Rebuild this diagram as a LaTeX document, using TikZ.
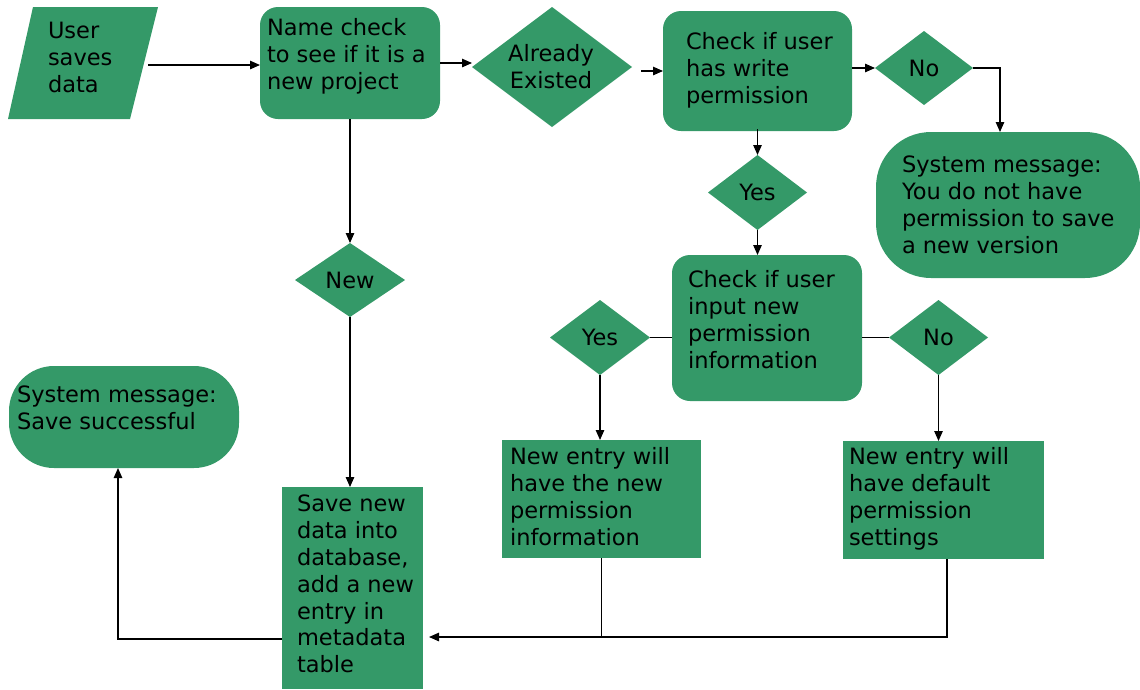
\documentclass[tikz,border=0pt]{standalone}
\usepackage{fontspec}
\setmainfont{DejaVu Sans}
\usetikzlibrary{shapes.geometric,arrows.meta}
\definecolor{flowgreen}{RGB}{52,153,104}
\begin{document}
\begin{tikzpicture}[x=1pt,y=-1pt,
  every node/.style={font=\fontsize{22.5}{26.8}\selectfont, inner sep=0pt, outer sep=0pt},
  procbox/.style={fill=flowgreen, rounded corners=18pt},
  plainbox/.style={fill=flowgreen},
  terminal/.style={fill=flowgreen, rounded corners=#1},
  decision/.style={diamond, fill=flowgreen, align=center},
  txt/.style={anchor=north west, align=left},
  link/.style={line width=1.2pt},
  arr/.style={link, -{Triangle[length=10pt,width=8.5pt]}}
]
\useasboundingbox (0,0) rectangle (1140,689);

% input parallelogram
\fill[flowgreen] (33,7) -- (158,7) -- (130,119) -- (8,119) -- cycle;
\coordinate (par) at (148,65);

% shapes
\node[procbox, minimum width=180pt, minimum height=112pt] (name) at (350,63) {};
\node[decision, minimum width=160pt, minimum height=120pt] (already) at (552,67) {};
\node[procbox, minimum width=189pt, minimum height=120pt] (write) at (757.5,71) {};
\node[decision, minimum width=98pt, minimum height=74pt] (no1) at (924,68) {No};
\node[terminal=55pt, minimum width=264pt, minimum height=146pt] (term1) at (1008,205) {};
\node[decision, minimum width=99pt, minimum height=75pt] (yes1) at (757.5,192.5) {Yes};
\node[procbox, minimum width=190pt, minimum height=146pt] (input) at (767,328) {};
\node[decision, minimum width=100pt, minimum height=75pt] (yesL) at (600,337.5) {Yes};
\node[decision, minimum width=99pt, minimum height=75pt] (noR) at (938.5,337.5) {No};
\node[plainbox, minimum width=199pt, minimum height=118pt] (box1) at (601.5,499) {};
\node[plainbox, minimum width=201pt, minimum height=118pt] (box2) at (943.5,500) {};
\node[decision, minimum width=110pt, minimum height=74pt] (new) at (350,280) {New};
\node[plainbox, minimum width=141pt, minimum height=202pt] (save) at (352.5,588) {};
\node[terminal=45pt, minimum width=230pt, minimum height=102pt] (ok) at (124,417) {};

% texts
\node[align=center] (talready) at (551,67) {Already\\Existed};
\node[txt] (tpar) at (48,20.2) {\strut User\\saves\\data};
\node[txt] (tname) at (267,17.2) {\strut Name check\\to see if it is a\\new project};
\node[txt] (twrite) at (686,31.2) {\strut Check if user\\has write\\permission};
\node[txt] (tterm1) at (902,154.2) {\strut System message:\\You do not have\\permission to save\\a new version};
\node[txt] (tinput) at (688,269.2) {\strut Check if user\\input new\\permission\\information};
\node[txt] (tbox1) at (510,446.2) {\strut New entry will\\have the new\\permission\\information};
\node[txt] (tbox2) at (849,446.2) {\strut New entry will\\have default\\permission\\settings};
\node[txt] (tok) at (17,384.2) {\strut System message:\\Save successful};
\node[txt] (tsave) at (297,493.2) {\strut Save new\\data into\\database,\\add a new\\entry in\\metadata\\table};

% connectors
\coordinate (join) at (947,637);
\draw[arr] (par) -- (par -| name.west);
\draw[arr] (name.east) -- (name.east -| already.west);
\draw[arr] ([xshift=9pt]already.east |- write.west) -- (write.west);
\draw[arr] (write.east |- no1.west) -- (no1.west);
\draw[arr] (no1.east) -| ([xshift=-8pt]term1.north);
\draw[arr] ([yshift=2pt]write.south) -- (yes1.north);
\draw[arr] (yes1.south) -- (yes1.south |- input.north);
\draw[link] (input.west |- yesL.east) -- (yesL.east);
\draw[link] (input.east |- noR.west) -- (noR.west);
\draw[arr] (yesL.south) -- (yesL.south |- box1.north);
\draw[arr] (noR.south) -- (noR.south |- box2.north);
\draw[link] (box1.south) -- (box1.south |- join);
\draw[arr] (box2.south -| join) |- ([xshift=6pt]save.east |- join);
\draw[arr] (name.south) -- (new.north);
\draw[arr] (new.south) -- (new.south |- save.north);
\draw[arr] (save.west |- 0,639) -| ([xshift=-6pt]ok.south);
\end{tikzpicture}
\end{document}
